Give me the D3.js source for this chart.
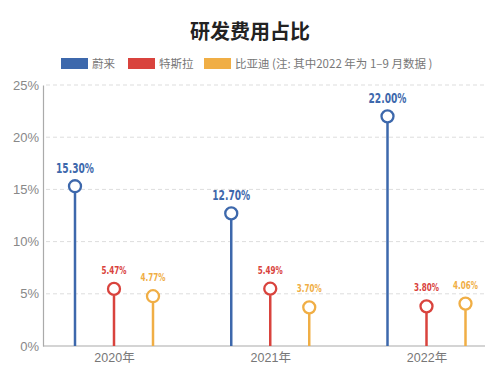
<!DOCTYPE html>
<html><head><meta charset="utf-8">
<script src="https://cdn.jsdelivr.net/npm/d3@7"></script>
<style>body{margin:0;background:#fff}</style>
</head><body>
<script>
const years = ["2020年","2021年","2022年"];
const seriesNames = ["蔚来","特斯拉","比亚迪 (注: 其中2022 年为 1–9 月数据 )"];
const nio = [15.30, 12.70, 22.00];
const tesla = [5.47, 5.49, 3.80];
const byd = [4.77, 3.70, 4.06];
const yTicks = [0,5,10,15,20,25];
const colors = ["#3D68AC","#D9433D","#F0AE45"];
const seriesData = [nio, tesla, byd];

const W=500,H=377;
const svg=d3.select("body").append("svg").attr("width",W).attr("height",H);
const pLeft=43,pRight=485,pTop=85,pBottom=346;
const y=d3.scaleLinear().domain([0,25]).range([pBottom,pTop]);
const x=d3.scalePoint().domain(years).range([114,426.5]);
const xs=d3.scalePoint().domain([0,1,2]).range([-39,39]);

svg.append("text").attr("x",250).attr("y",39).attr("text-anchor","middle")
  .attr("font-family","Noto Sans CJK SC").attr("font-weight","bold").attr("font-size",20)
  .attr("fill","#222").text("研发费用占比");

// legend
const legX=[61,128,204];
seriesNames.forEach((n,i)=>{
  svg.append("rect").attr("x",legX[i]).attr("y",58).attr("width",27).attr("height",11).attr("fill",colors[i]);
  svg.append("text").attr("x",legX[i]+31).attr("y",68).attr("font-family","Noto Sans CJK SC")
    .attr("font-size",11.5).attr("fill","#777").text(n);
});

// grid
const yAxis=d3.axisLeft(y).tickValues(yTicks).tickFormat(d=>d+"%").tickSize(0).tickPadding(4);
const ga=svg.append("g").attr("transform",`translate(${pLeft},0)`).call(yAxis);
ga.select(".domain").attr("stroke","#aaa").attr("stroke-width",1.2);
ga.selectAll("text").attr("font-family","Liberation Sans, Arial").attr("font-size",13).attr("fill","#888");
svg.selectAll(".grid").data(yTicks.filter(d=>d>0)).join("line")
  .attr("x1",pLeft+3).attr("x2",pRight).attr("y1",d=>y(d)).attr("y2",d=>y(d))
  .attr("stroke","#ddd").attr("stroke-dasharray","4,3");

const xAxis=d3.axisBottom(x).tickSize(0).tickPadding(7);
const gx=svg.append("g").attr("transform",`translate(0,${pBottom})`).call(xAxis);
gx.select(".domain").remove();
svg.append("line").attr("x1",pLeft).attr("x2",pRight).attr("y1",pBottom).attr("y2",pBottom).attr("stroke","#aaa").attr("stroke-width",1.2);
gx.selectAll("text").attr("font-family","Liberation Sans, Noto Sans CJK SC").attr("font-size",12.5).attr("fill","#777");

seriesData.forEach((vals,si)=>{
  const g=svg.append("g");
  vals.forEach((v,yi)=>{
    const cx=x(years[yi])+xs(si);
    g.append("line").attr("x1",cx).attr("x2",cx).attr("y1",pBottom).attr("y2",y(v)+6.5)
      .attr("stroke",colors[si]).attr("stroke-width",2.5);
    g.append("circle").attr("cx",cx).attr("cy",y(v)).attr("r",6).attr("fill","#fff")
      .attr("stroke",colors[si]).attr("stroke-width",2.3);
    const big=si===0;
    g.append("text").attr("x",cx).attr("y",y(v)-(big?13:15)).attr("text-anchor","middle")
      .attr("font-family","DejaVu Sans, sans-serif")
      .attr("font-weight","bold").attr("font-size",big?13.5:10.5).attr("fill",colors[si])
      .attr("textLength",big?38:25).attr("lengthAdjust","spacingAndGlyphs")
      .text(v.toFixed(2)+"%");
  });
});
</script>
</body></html>
